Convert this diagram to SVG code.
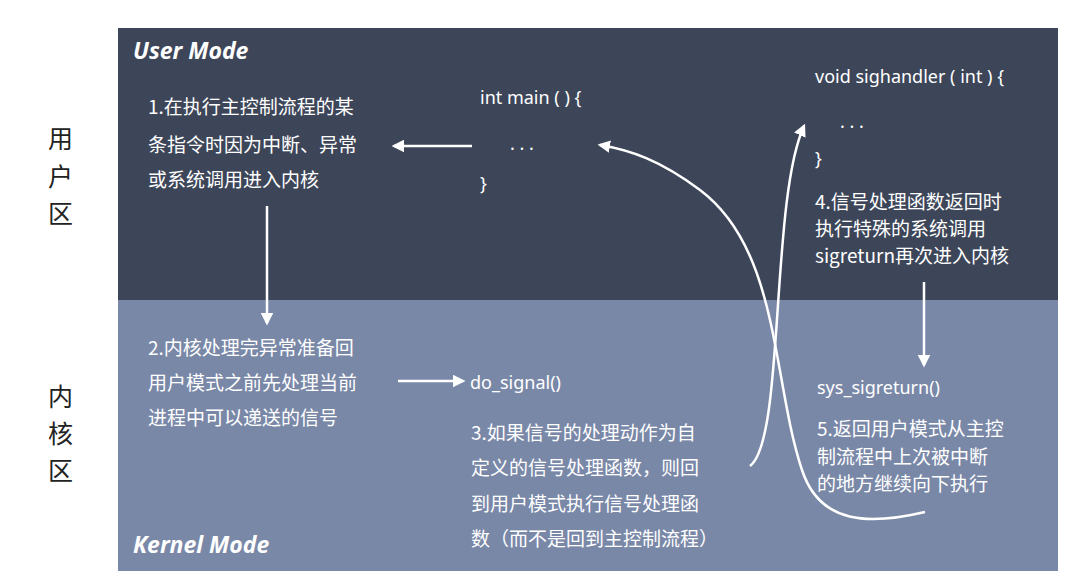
<svg xmlns="http://www.w3.org/2000/svg" width="1072" height="579" viewBox="0 0 1072 579">
<defs>
<style>
.t{font-family:"Noto Sans CJK SC","Noto Sans",sans-serif;font-size:19px;fill:#ffffff}
.c{font-family:"Noto Sans",sans-serif;font-size:18px;fill:#ffffff}
.s{font-family:"Noto Sans CJK SC",sans-serif;font-size:25px;fill:#222}
.m{font-family:"Open Sans","Noto Sans",sans-serif;font-size:23px;font-weight:bold;font-style:italic;fill:#fff}
.ln{stroke:#fff;stroke-width:2.5;fill:none}
</style>
<marker id="ah" viewBox="0 0 10 10" refX="8" refY="5" markerWidth="5" markerHeight="5" orient="auto"><path d="M0,0L10,5L0,10z" fill="#fff"/></marker>
</defs>
<rect width="1072" height="579" fill="#fff"/>
<rect x="118" y="28" width="940" height="272" fill="#3d4659"/>
<rect x="118" y="300" width="940" height="271" fill="#7a88a8"/>
<g id="side"><text class="s" x="48" y="148">用</text><text class="s" x="48" y="186">户</text><text class="s" x="48" y="223">区</text>
<text class="s" x="48" y="406">内</text><text class="s" x="48" y="443">核</text><text class="s" x="48" y="480">区</text></g>
<text class="m" x="133" y="59">User Mode</text>
<text class="m" x="133" y="553">Kernel Mode</text>
<g id="n1"><text class="t" x="148" y="114">1.在执行主控制流程的某</text><text class="t" x="148" y="152">条指令时因为中断、异常</text><text class="t" x="148" y="187">或系统调用进入内核</text></g>
<g id="main"><text class="c" x="480" y="104">int main ( ) {</text><text class="c" x="510" y="150">. . .</text><text class="c" x="480" y="190">}</text></g>
<g id="handler"><text class="c" x="815" y="83">void sighandler ( int ) {</text><text class="c" x="840" y="128">. . .</text><text class="c" x="815" y="165">}</text></g>
<g id="n4"><text class="t" x="815" y="209">4.信号处理函数返回时</text><text class="t" x="815" y="236">执行特殊的系统调用</text><text class="t" x="815" y="263">sigreturn再次进入内核</text></g>
<g id="n2"><text class="t" x="148" y="355">2.内核处理完异常准备回</text><text class="t" x="148" y="390">用户模式之前先处理当前</text><text class="t" x="148" y="425">进程中可以递送的信号</text></g>
<g id="dosig"><text class="c" x="470" y="389">do_signal()</text></g>
<g id="n3"><text class="t" x="471" y="440">3.如果信号的处理动作为自</text><text class="t" x="471" y="475">定义的信号处理函数，则回</text><text class="t" x="471" y="511">到用户模式执行信号处理函</text><text class="t" x="471" y="546">数（而不是回到主控制流程）</text></g>
<g id="sysret"><text class="c" x="817" y="394">sys_sigreturn()</text></g>
<g id="n5"><text class="t" x="817" y="436">5.返回用户模式从主控</text><text class="t" x="817" y="464">制流程中上次被中断</text><text class="t" x="817" y="491">的地方继续向下执行</text></g>
<g id="connectors">
<path class="ln" d="M472,146H394" marker-end="url(#ah)"/>
<path class="ln" d="M267,206V323" marker-end="url(#ah)"/>
<path class="ln" d="M398,381H463" marker-end="url(#ah)"/>
<path class="ln" d="M924,282V365" marker-end="url(#ah)"/>
<path class="ln" d="M750,466C785,440 770,200 804,126" marker-end="url(#ah)"/>
<path class="ln" d="M925,512C870,525 820,525 802,470C772,380 780,250 700,190C660,160 630,150 600,145" marker-end="url(#ah)"/>
</g>
</svg>
